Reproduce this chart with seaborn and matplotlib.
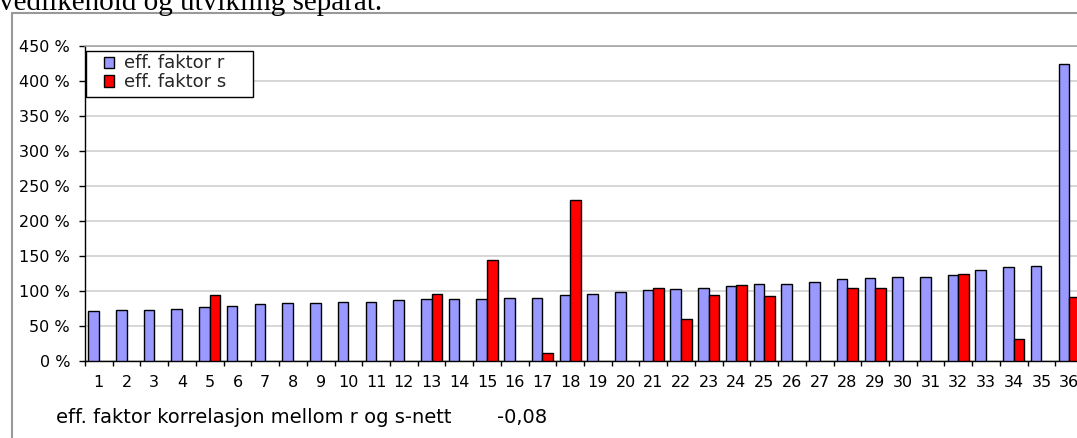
import numpy as np
import pandas as pd
import matplotlib
matplotlib.use("Agg")
import matplotlib.pyplot as plt
import seaborn as sns
from matplotlib.patches import Rectangle
from matplotlib.lines import Line2D

# ---------------- data ----------------
categories = [str(i) for i in range(1, 37)]
series_names = ["eff. faktor r", "eff. faktor s"]
r_values = [71, 72.6, 73, 74, 77, 78.4, 81.5, 82, 83, 83.6, 84.5, 86.5,
            88, 88, 88.5, 89.4, 90.3, 93.6, 95.1, 98.9, 101.3, 103.2, 104, 107,
            109.2, 110, 112.3, 116.6, 118, 119.4, 119.9, 123.2, 129.5, 134.2, 134.7, 424]
s_values = [None, None, None, None, 94, None, None, None, None, None, None, None,
            95.5, None, 143.8, None, 11, 229.8, None, None, 103.7, 60.2, 94.3, 108.7,
            93.2, None, None, 104.2, 104.6, None, None, 124, None, 31, None, 91.7]
y_ticks = [0, 50, 100, 150, 200, 250, 300, 350, 400, 450]
y_tick_labels = [f"{v} %" for v in y_ticks]
colors = ["#9999FF", "#FF0000"]
title_text = "vedlikehold og utvikling separat."
corr_label = "eff. faktor korrelasjon mellom r og s-nett"
corr_value = "-0,08"

# ---------------- frame ----------------
sns.set_theme(style="white")
plt.rcParams["font.family"] = ["DejaVu Sans"]

W, H = 1077, 438
fig = plt.figure(figsize=(W / 100, H / 100), dpi=100)
fig.patch.set_facecolor("white")


def fx(px):
    return px / W


def fy(py):
    return 1 - py / H


ax_left, ax_right, ax_top, ax_bottom = 85, 1083, 46, 360.7
ax = fig.add_axes([fx(ax_left), fy(ax_bottom), fx(ax_right) - fx(ax_left),
                   (ax_bottom - ax_top) / H])
ax.set_facecolor("white")

rows = []
for c, v in zip(categories, r_values):
    rows.append({"kategori": c, "verdi": v, "serie": series_names[0]})
for c, v in zip(categories, s_values):
    if v is not None:
        rows.append({"kategori": c, "verdi": v, "serie": series_names[1]})
df = pd.DataFrame(rows)

sns.barplot(data=df, x="kategori", y="verdi", hue="serie", order=categories,
            hue_order=series_names, palette=colors, saturation=1, width=0.76,
            edgecolor="black", linewidth=1.0, errorbar=None, ax=ax, legend=False,
            zorder=3)

ax.set_xlim(-0.5, 35.5)
ax.set_ylim(0, 450)
ax.set_yticks(y_ticks)
ax.set_yticklabels(y_tick_labels)
ax.set_xlabel("")
ax.set_ylabel("")
ax.yaxis.grid(True, color="#cccccc", linewidth=1.1)
ax.xaxis.grid(False)
ax.set_axisbelow(True)

ax.spines["right"].set_visible(False)
ax.spines["top"].set_color("#a0a0a0")
ax.spines["top"].set_linewidth(1.1)
ax.spines["left"].set_color("black")
ax.spines["left"].set_linewidth(1.0)
ax.spines["bottom"].set_color("black")
ax.spines["bottom"].set_linewidth(1.0)

ax.set_xticks(np.arange(-0.5, 36, 1), minor=True)
ax.tick_params(axis="x", which="major", length=0, pad=10.6, labelsize=11.5,
               labelcolor="black")
ax.tick_params(axis="x", which="minor", length=3.3, width=1.0, color="black",
               direction="out", bottom=True)
ax.tick_params(axis="y", which="major", length=4.3, width=1.0, color="black",
               direction="out", left=True, pad=6.5, labelsize=11.5, labelcolor="black")

# legend box and legend
frame = Rectangle((fx(86), fy(97)), fx(253) - fx(86), (97 - 51) / H,
                  transform=fig.transFigure, facecolor="white", edgecolor="black",
                  linewidth=1.0, zorder=3)
fig.add_artist(frame)
handles = [Rectangle((0, 0), 1, 1, facecolor=col, edgecolor="black", linewidth=1.0)
           for col in colors]
leg = fig.legend(handles, series_names, loc="upper left",
                 bbox_to_anchor=(fx(104), fy(54.5)), bbox_transform=fig.transFigure,
                 frameon=False, fontsize=13, borderpad=0, borderaxespad=0,
                 handlelength=0.58, handleheight=0.58, handletextpad=0.55,
                 labelspacing=0.05)
leg.set_zorder(5)

# outer chart border (partially visible)
fig.add_artist(Line2D([fx(11.5), 1.02], [fy(12.7), fy(12.7)], color="#999999",
                      linewidth=1.5, transform=fig.transFigure))
fig.add_artist(Line2D([fx(11.5), fx(11.5)], [fy(12.7), -0.02], color="#999999",
                      linewidth=1.5, transform=fig.transFigure))

# surrounding text
fig.text(fx(-1), fy(10), title_text, family="Liberation Serif", fontsize=21,
         ha="left", va="baseline", color="black")
fig.text(fx(56), fy(423.3), corr_label, fontsize=14, ha="left", va="baseline",
         color="black")
fig.text(fx(497), fy(423.3), corr_value, fontsize=14, ha="left", va="baseline",
         color="black")

fig.savefig("out.png", dpi=100, facecolor="white")
